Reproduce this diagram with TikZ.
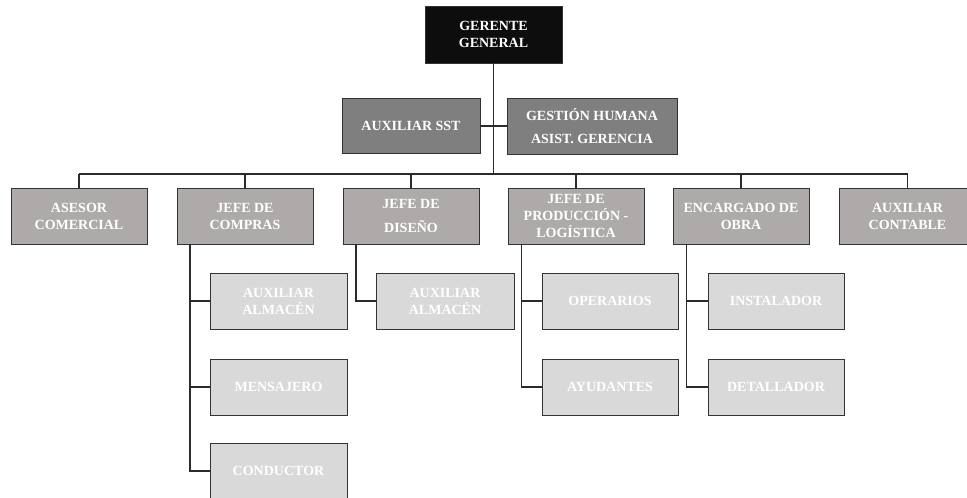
\documentclass[tikz,border=0pt]{standalone}
\usepackage{fontspec}
\setmainfont{Liberation Serif}
\definecolor{headfill}{HTML}{0D0D0D}
\definecolor{staffill}{HTML}{7F7F7F}
\definecolor{deptfill}{HTML}{AEAAAA}
\definecolor{unitfill}{HTML}{D9D9D9}
\definecolor{edgecol}{HTML}{333333}
\definecolor{linkcol}{HTML}{2B2B2B}
\tikzset{
  orgbox/.style={draw=edgecol, line width=0.9pt, inner sep=0pt, align=center,
    text=white, font=\bfseries\fontsize{14}{17}\selectfont,
    minimum width=136, minimum height=56},
  headbox/.style={orgbox, fill=headfill, minimum width=137, minimum height=57},
  staffbox/.style={orgbox, fill=staffill, minimum height=55},
  deptbox/.style={orgbox, fill=deptfill},
  unitbox/.style={orgbox, fill=unitfill},
  link/.style={draw=linkcol, line width=1.2pt},
}
\begin{document}
\begin{tikzpicture}[x=1pt,y=-1pt]
\clip (0,0) rectangle (967,498);
\fill[white] (0,0) rectangle (967,498);

% top level and staff
\node[headbox] (gg) at (493.5,34.5) {GERENTE\\GENERAL};
\node[staffbox, minimum width=138] (sst) at (411,126) {AUXILIAR SST};
\node[staffbox, minimum width=170, minimum height=56] (gh) at (592,126) {GESTIÓN HUMANA\\[6pt]ASIST. GERENCIA};

% departments
\node[deptbox] (asesor) at (79,216) {ASESOR\\COMERCIAL};
\node[deptbox] (compras) at (245,216) {JEFE DE\\COMPRAS};
\node[deptbox] (diseno) at (411,216) {JEFE DE\\[7pt]DISEÑO};
\node[deptbox] (prod) at (576,216) {JEFE DE\\PRODUCCIÓN -\\LOGÍSTICA};
\node[deptbox] (obra) at (741,216) {ENCARGADO DE\\OBRA};
\node[deptbox, minimum width=137] (contable) at (907.5,216) {AUXILIAR\\CONTABLE};

% units
\node[unitbox, minimum width=137] (almA) at (278.5,301) {AUXILIAR\\ALMACÉN};
\node[unitbox, minimum width=137] (mens) at (278.5,387) {MENSAJERO};
\node[unitbox, minimum width=137] (cond) at (278.5,471) {CONDUCTOR};
\node[unitbox, minimum width=138] (almB) at (445,301) {AUXILIAR\\ALMACÉN};
\node[unitbox] (oper) at (610,301) {OPERARIOS};
\node[unitbox] (ayud) at (610,387) {AYUDANTES};
\node[unitbox] (inst) at (776,301) {INSTALADOR};
\node[unitbox] (deta) at (776,387) {DETALLADOR};

% connectors
\coordinate (busL) at (79,174);
\coordinate (busR) at (907.5,174);
\draw[link] (gg.south) -- (gg.south |- busL);
\draw[link] (sst.east) -- (gh.west);
\draw[link] (busL) -- (busR);
\foreach \d in {asesor,compras,diseno,prod,obra,contable}
  \draw[link] (\d.north) -- (\d.north |- busL);

\draw[link] (compras.south west) ++(13.5,0) |- (cond.west);
\draw[link] (compras.south west) ++(13.5,0) |- (mens.west);
\draw[link] (compras.south west) ++(13.5,0) |- (almA.west);
\draw[link] (diseno.south west) ++(13.5,0) |- (almB.west);
\draw[link] (prod.south west) ++(14,0) |- (ayud.west);
\draw[link] (prod.south west) ++(14,0) |- (oper.west);
\draw[link] (obra.south west) ++(14,0) |- (deta.west);
\draw[link] (obra.south west) ++(14,0) |- (inst.west);
\end{tikzpicture}
\end{document}
